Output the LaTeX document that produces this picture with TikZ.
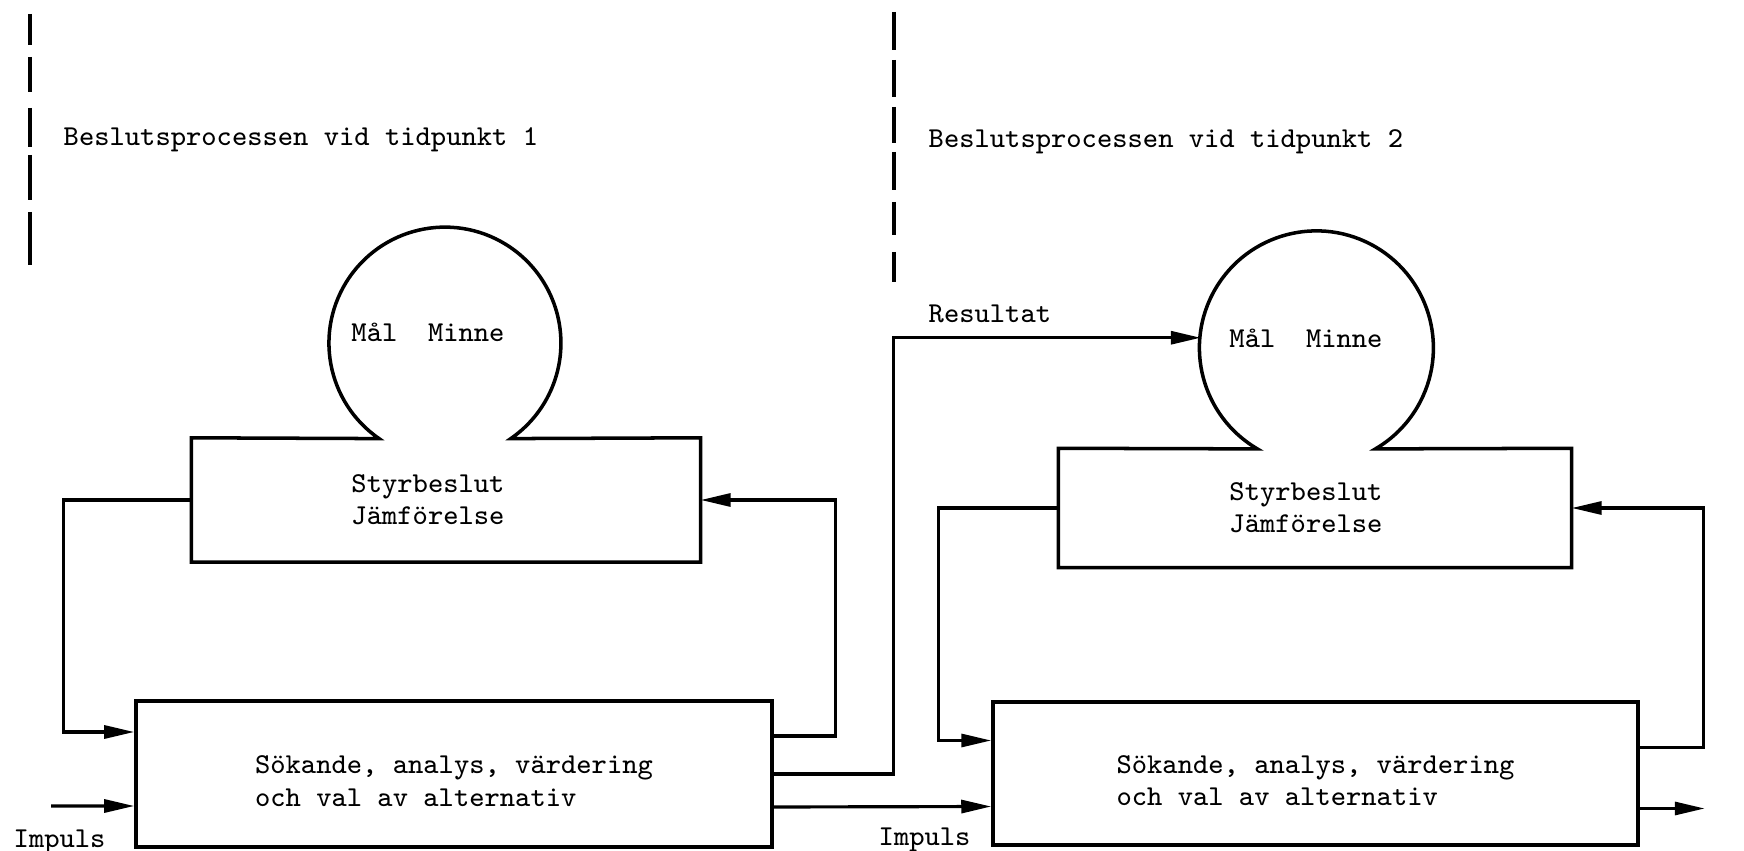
\documentclass[tikz,border=0pt]{standalone}
\usepackage{fontspec}
\usepackage{tikz}
\usetikzlibrary{arrows.meta}

\begin{document}
\begin{tikzpicture}[x=0.1mm, y=0.1mm,
    every node/.style={font=\ttfamily\fontsize{8.2}{9.2}\selectfont},
    box/.style={rectangle, inner sep=0pt},
    bubble/.style={circle, inner sep=0pt},
    textblock/.style={inner sep=0pt, align=left},
    caption/.style={anchor=base west, inner sep=0pt},
    outline/.style={line width=1pt, line join=miter},
    wire/.style={line width=0.9pt},
    flow/.style={wire, -{Triangle[length=3mm,width=1.3mm]}},
    divider/.style={line width=1.2pt}]
    \useasboundingbox (0,0) rectangle (1744,-851);

    \foreach \a/\b in {14/45,57/92,108/147,155/200,212/265}
        \draw[divider] (30,-\a) -- (30,-\b);
    \foreach \a/\b in {12/50,60/97,107/143,152/190,202/235,252/282}
        \draw[divider] (894,-\a) -- (894,-\b);

    \node[caption] (titel1) at (63,-146) {Beslutsprocessen vid tidpunkt 1};
    \node[caption] (titel2) at (928,-148) {Beslutsprocessen vid tidpunkt 2};

    \node[bubble, minimum size=23.2mm] (mal1) at (446,-343) {};
    \node[box, minimum width=50.8mm, minimum height=12.3mm] (styr1) at (446,-500) {};
    \node[box, draw, outline, minimum width=63.6mm, minimum height=14.6mm] (sok1) at (454,-774) {};

    \node[bubble, minimum size=23.4mm] (mal2) at (1318,-348) {};
    \node[box, minimum width=51.2mm, minimum height=11.8mm] (styr2) at (1315,-508) {};
    \node[box, draw, outline, minimum width=64.5mm, minimum height=14.3mm] (sok2) at (1315.5,-773.5) {};

    \draw[outline] (styr1.north west) -- (mal1.235.4) arc[start angle=235.4, end angle=-55.4, radius=11.6mm]
        -- (styr1.north east) -- (styr1.south east) -- (styr1.south west) -- cycle;
    \draw[outline] (styr2.north west) -- (mal2.239.7) arc[start angle=239.7, end angle=-59.7, radius=11.7mm]
        -- (styr2.north east) -- (styr2.south east) -- (styr2.south west) -- cycle;

    \node[textblock] (mal1txt) at ([xshift=-1.8mm, yshift=1.1mm]mal1.center) {Mål~~Minne};
    \node[textblock] (styr1txt) at ([xshift=-1.8mm]styr1.center) {Styrbeslut\\Jämförelse};
    \node[textblock] (sok1txt) at ([yshift=-0.7mm]sok1.center) {Sökande, analys, värdering\\och val av alternativ};
    \node[textblock] (mal2txt) at ([xshift=-1.2mm, yshift=1mm]mal2.center) {Mål~~Minne};
    \node[textblock] (styr2txt) at ([xshift=-0.9mm]styr2.center) {Styrbeslut\\Jämförelse};
    \node[textblock] (sok2txt) at ([yshift=-0.7mm]sok2.center) {Sökande, analys, värdering\\och val av alternativ};

    \coordinate (in1) at (51,-806);

    \draw[flow] (styr1.west) -- ++(-128,0) |- ([yshift=4.2mm]sok1.west);
    \draw[flow] ([yshift=3.8mm]sok1.east) -- ++(62,0) |- (styr1.east);
    \draw[flow] (in1) -- ([yshift=-3.2mm]sok1.west);
    \draw[flow] (sok1.east) -- ++(120,0) |- (mal2.175);
    \draw[flow] ([yshift=-3.3mm]sok1.east) -- ([yshift=-3.3mm]sok2.west);
    \draw[flow] (styr2.west) -- ++(-120,0) |- ([yshift=3.3mm]sok2.west);
    \draw[flow] ([yshift=2.6mm]sok2.east) -- ++(64,0) |- (styr2.east);
    \draw[flow] ([yshift=-3.5mm]sok2.east) -- ++(65,0);

    \node[caption] (resultat) at (928,-323) {Resultat};
    \node[caption] (impuls1) at (13,-847) {Impuls};
    \node[caption] (impuls2) at (878,-845) {Impuls};
\end{tikzpicture}
\end{document}
